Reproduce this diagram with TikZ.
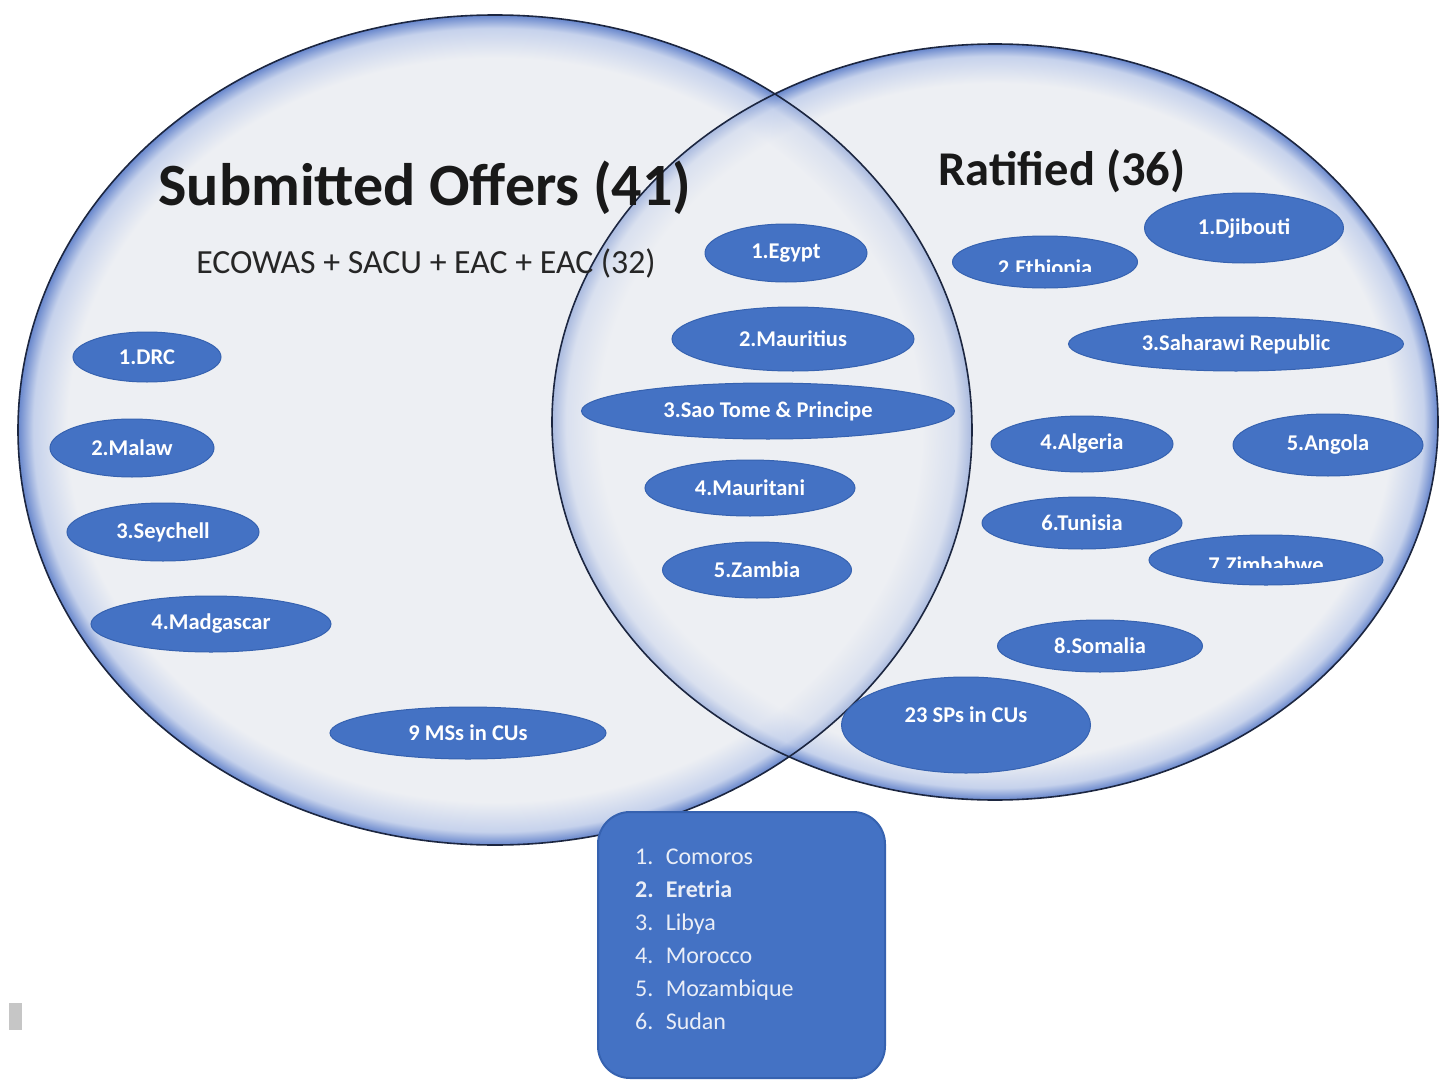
\documentclass[tikz,border=0pt]{standalone}
\usepackage{fontspec}
\setmainfont{Carlito}
\usepackage{tikz}
\usetikzlibrary{shapes.geometric, calc}

\definecolor{vennin}{HTML}{EDEFF3}
\definecolor{vennmid}{HTML}{C6D2EC}
\definecolor{vennout}{HTML}{6786CC}
\definecolor{vennline}{HTML}{1C2640}
\definecolor{blobblue}{HTML}{4472C4}
\definecolor{blobedge}{HTML}{3662B0}
\definecolor{boxtext}{HTML}{EAEEF7}

\pgfdeclareradialshading{vennglow}{\pgfpoint{0bp}{0bp}}{color(0bp)=(vennin); color(22.4bp)=(vennin); color(24.2bp)=(vennmid); color(25bp)=(vennout); color(50bp)=(vennout)}

\tikzset{
  vennrim/.style={draw=vennline, line width=1.6pt},
  country/.style 2 args={ellipse, fill=blobblue, draw=blobedge, line width=1pt,
    minimum width=#1, minimum height=#2, inner sep=0pt, text=white,
    font=\fontsize{22.5}{24}\selectfont\bfseries},
  countrytext/.style={inner sep=0pt, text=white, font=\fontsize{22.5}{24}\selectfont\bfseries},
  settitle/.style={anchor=base, inner sep=0pt, text=black!90, font=\bfseries},
  restbox/.style={rounded corners=32pt, fill=blobblue, draw=blobedge, line width=2pt,
    minimum width=287pt, minimum height=266pt},
}

\begin{document}
\begin{tikzpicture}[x=1pt, y=-1pt]
	\useasboundingbox (0,0) rectangle (1441,1081);
	\coordinate (L) at (495,430);
	\coordinate (R) at (995,422);
	% the two sets
	\path[shading=vennglow] (L) ellipse [x radius=477, y radius=415];
	\path[shading=vennglow] (R) ellipse [x radius=443, y radius=378];
	\begin{scope}
		\clip (R) ellipse [x radius=443, y radius=378];
		\path[shading=vennglow, opacity=.5] (L) ellipse [x radius=477, y radius=415];
	\end{scope}
	\draw[vennrim] (L) ellipse [x radius=477, y radius=415];
	\draw[vennrim] (R) ellipse [x radius=443, y radius=378];

	\node[settitle, font=\fontsize{60}{64}\selectfont\bfseries] (subm) at (425,205) {Submitted Offers (41)};
	\node[settitle, font=\fontsize{48.5}{52}\selectfont\bfseries] (ratf) at (1062,185) {Ratified (36)};
	\node[anchor=base, inner sep=0pt, text=black!85, font=\fontsize{33.8}{36}\selectfont] (rec) at (426,273) {ECOWAS + SACU + EAC + EAC (32)};

	% submitted only
	\node[country={148pt}{50pt}] (drc) at (147,357) {1.DRC};
	\node[country={164pt}{58pt}] (mlw) at (132,448) {2.Malaw};
	\node[country={192pt}{58pt}] (syc) at (163,532) {3.Seychell};
	\node[country={240pt}{56pt}] (mdg) at (211,624) {4.Madgascar};
	\node[country={276pt}{52pt}] (mss) at (468,733) {9 MSs in CUs};

	% both
	\node[country={162pt}{58pt}] (egy) at (786,253) {1.Egypt};
	\node[country={242pt}{64pt}] (mus) at (793,339) {2.Mauritius};
	\node[country={373pt}{56pt}] (stp) at (768,411) {3.Sao Tome \& Principe};
	\node[country={210pt}{56pt}] (mrt) at (750,488) {4.Mauritani};
	\node[country={189pt}{56pt}] (zmb) at (757,570) {5.Zambia};

	% ratified only
	\node[country={199pt}{70pt}] (dji) at (1244,228) {1.Djibouti};
	\node[country={185pt}{52pt}] (eth) at (1045,262) {};
	\begin{scope}
		\clip (950,230) rectangle (1140,271);
		\node[countrytext, anchor=base] (ethtext) at (1045,275) {2.Ethiopia};
	\end{scope}
	\node[country={335pt}{54pt}] (esh) at (1236,344) {3.Saharawi Republic};
	\node[country={182pt}{56pt}] (dza) at (1082,444) {4.Algeria};
	\node[country={190pt}{62pt}] (ago) at (1328,445) {5.Angola};
	\node[country={200pt}{52pt}] (tun) at (1082,523) {6.Tunisia};
	\node[country={234pt}{50pt}] (zwe) at (1266,560) {};
	\begin{scope}
		\clip (1145,530) rectangle (1390,567);
		\node[countrytext, anchor=base] (zwetext) at (1266,572) {7.Zimbabwe};
	\end{scope}
	\node[country={205pt}{52pt}] (som) at (1100,646) {8.Somalia};
	\node[country={249pt}{96pt}, text depth=20pt] (sps) at (966,725) {23 SPs in CUs};

	% neither
	\node[restbox] (rest) at (741.5,945) {};
	\node[anchor=west, inner sep=0pt, text=boxtext, font=\fontsize{24}{33}\selectfont] (restlist) at (635,940) {%
		\begin{tabular}{@{}l@{\hspace{12pt}}l@{}}
		1. & Comoros\\
		\bfseries 2. & \bfseries Eretria\\
		3. & Libya\\
		4. & Morocco\\
		5. & Mozambique\\
		6. & Sudan
		\end{tabular}};

	\fill[gray!45] (9,1003) rectangle (22,1030);
\end{tikzpicture}
\end{document}
